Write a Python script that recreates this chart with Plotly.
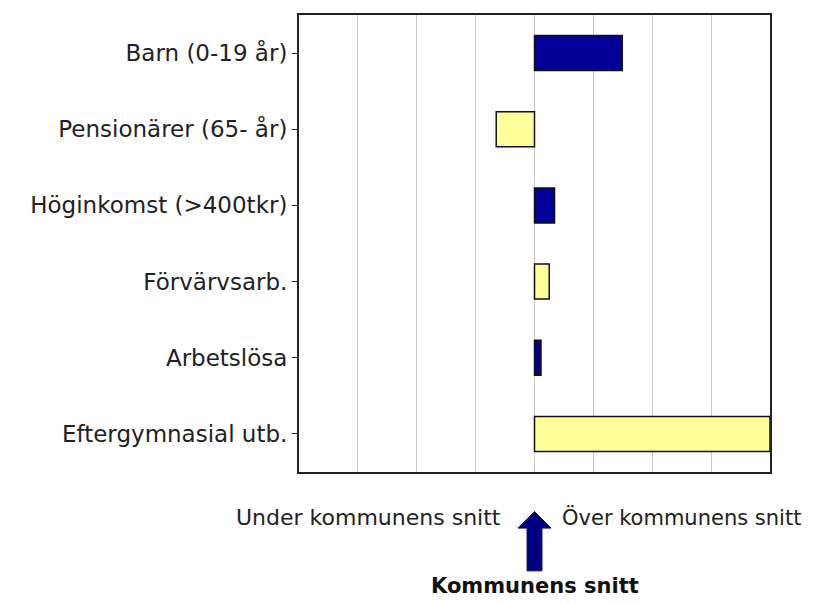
import plotly.graph_objects as go

categories = ["Barn (0-19 år)", "Pensionärer (65- år)", "Höginkomst (>400tkr)",
              "Förvärvsarb.", "Arbetslösa", "Eftergymnasial utb."]
values = [1.49, -0.65, 0.34, 0.25, 0.11, 4.0]
bar_colors = ["#000099", "#FFFF99", "#000099", "#FFFF99", "#000099", "#FFFF99"]
x_range = [-4, 4]

under_label = "Under kommunens snitt"
over_label = "Över kommunens snitt"
mean_label = "Kommunens snitt"

FONT = "DejaVu Sans"

fig = go.Figure()
fig.add_trace(go.Bar(
    y=categories, x=values, orientation="h",
    marker=dict(color=bar_colors, line=dict(color="#111111", width=1.5)),
    width=0.46, showlegend=False, hoverinfo="skip",
))

# page body has an 8px margin, so the figure is sized to end at the window edge
fig.update_layout(
    width=809, height=596,
    margin=dict(l=291, r=47, t=5, b=132, pad=0),
    paper_bgcolor="white", plot_bgcolor="white",
    font=dict(family=FONT, size=23, color="#222222"),
)
fig.update_xaxes(
    range=x_range, dtick=1, tick0=0, showgrid=True, gridcolor="#cccccc", gridwidth=1,
    zeroline=False, showticklabels=False, ticks="",
    showline=True, linecolor="#222222", linewidth=2, mirror=True, fixedrange=True,
)
fig.update_yaxes(
    categoryorder="array", categoryarray=categories, autorange="reversed",
    showgrid=False, zeroline=False, ticks="outside", ticklen=5, tickcolor="#222222",
    tickfont=dict(family=FONT, size=23, color="#222222"),
    showline=True, linecolor="#222222", linewidth=2, mirror=True, fixedrange=True,
)

# arrow marking the municipal average
fig.add_shape(
    type="path", xref="x", yref="paper",
    path="M -0.126,-0.2163 L 0.126,-0.2163 L 0.126,-0.1227 L 0.28,-0.1227 L 0,-0.0867 "
         "L -0.28,-0.1227 L -0.126,-0.1227 Z",
    fillcolor="#000080", line=dict(color="#000060", width=1),
)
fig.add_annotation(text=under_label, xref="paper", yref="paper", x=0.4335, y=-0.0987,
                   xanchor="right", yanchor="middle", showarrow=False,
                   font=dict(family=FONT, size=22, color="#222222"))
fig.add_annotation(text=over_label, xref="paper", yref="paper", x=0.5545, y=-0.0987,
                   xanchor="left", yanchor="middle", showarrow=False,
                   font=dict(family=FONT, size=21, color="#222222"))
fig.add_annotation(text="<b>" + mean_label + "</b>", xref="paper", yref="paper", x=0.5014, y=-0.249,
                   xanchor="center", yanchor="middle", showarrow=False,
                   font=dict(family=FONT, size=21, color="#111111"))

fig.write_html("out.html")
